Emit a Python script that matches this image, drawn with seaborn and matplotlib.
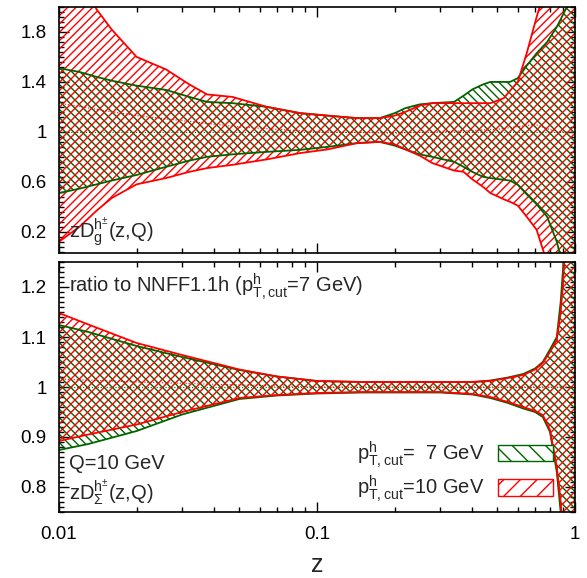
import matplotlib
matplotlib.use("Agg")
import matplotlib.pyplot as plt
import seaborn as sns
from matplotlib.patches import Patch
from matplotlib.ticker import FixedLocator, MultipleLocator, NullFormatter

# ---- top panel: zD_g ratio bands ----
z_top = [0.01, 0.012, 0.014, 0.016, 0.02, 0.026, 0.032, 0.0375, 0.047, 0.064,
         0.086, 0.11, 0.143, 0.175, 0.2, 0.22, 0.25, 0.28, 0.34, 0.37,
         0.40, 0.44, 0.47, 0.53, 0.56, 0.60, 0.65, 0.71, 0.78, 0.85,
         0.93, 1.0]
g7_up = [1.51, 1.48, 1.44, 1.41, 1.37, 1.336, 1.28, 1.24, 1.23, 1.20,
         1.15, 1.13, 1.11, 1.11, 1.15, 1.19, 1.22, 1.23, 1.24, 1.29,
         1.34, 1.38, 1.40, 1.40, 1.40, 1.43, 1.53, 1.63, 1.72, 1.84,
         2.0, 2.2]
g7_lo = [0.51, 0.545, 0.58, 0.61, 0.655, 0.72, 0.77, 0.80, 0.82, 0.84,
         0.856, 0.88, 0.91, 0.92, 0.89, 0.86, 0.82, 0.80, 0.76, 0.72,
         0.68, 0.64, 0.63, 0.616, 0.61, 0.576, 0.50, 0.42, 0.32, 0.12,
         -0.2, -0.4]
r10_up = [2.5, 2.25, 1.98, 1.82, 1.60, 1.50, 1.38, 1.30, 1.28, 1.20,
          1.15, 1.13, 1.11, 1.11, 1.13, 1.16, 1.21, 1.23, 1.23, 1.23,
          1.23, 1.23, 1.23, 1.27, 1.33, 1.40, 1.63, 1.92, 2.2, 2.6,
          3.0, 3.4]
r10_lo = [0.12, 0.24, 0.37, 0.47, 0.58, 0.63, 0.68, 0.71, 0.736, 0.78,
          0.83, 0.86, 0.91, 0.92, 0.90, 0.86, 0.81, 0.75, 0.69, 0.68,
          0.62, 0.56, 0.51, 0.46, 0.44, 0.41, 0.32, 0.216, -0.05, -0.3,
          -0.5, -0.7]
z_top_c = [0.01, 0.015, 0.02, 0.03, 0.05, 0.1, 0.2, 0.3, 0.5, 0.7, 0.85, 1.0]
r10_top_c = [1.23, 1.17, 1.13, 1.09, 1.04, 1.0, 0.99, 1.0, 1.02, 1.06, 1.0, 1.0]

# ---- bottom panel: zD_Sigma ratio bands ----
z_bot = [0.01, 0.013, 0.02, 0.03, 0.05, 0.07, 0.1, 0.15, 0.2, 0.3,
         0.4, 0.47, 0.55, 0.63, 0.7, 0.75, 0.8, 0.85, 0.88, 0.9,
         0.93, 0.96, 1.0]
g7_up_b = [1.124, 1.11, 1.082, 1.06, 1.034, 1.021, 1.012, 1.01, 1.01, 1.01,
           1.01, 1.013, 1.019, 1.026, 1.037, 1.05, 1.075, 1.10, 1.17, 1.24,
           1.40, 1.6, 1.8]
g7_lo_b = [0.874, 0.886, 0.912, 0.945, 0.976, 0.983, 0.987, 0.989, 0.989, 0.989,
           0.985, 0.978, 0.968, 0.957, 0.95, 0.94, 0.91, 0.83, 0.75, 0.69,
           0.6, 0.5, 0.4]
r10_up_b = [1.148, 1.125, 1.088, 1.064, 1.035, 1.021, 1.012, 1.01, 1.01, 1.01,
            1.01, 1.012, 1.018, 1.024, 1.035, 1.048, 1.07, 1.094, 1.15, 1.21,
            1.35, 1.55, 1.75]
r10_lo_b = [0.892, 0.905, 0.925, 0.95, 0.978, 0.984, 0.988, 0.99, 0.99, 0.99,
            0.986, 0.98, 0.97, 0.96, 0.952, 0.944, 0.914, 0.84, 0.77, 0.70,
            0.6, 0.5, 0.4]
z_bot_c = [0.01, 0.02, 0.05, 0.1, 0.3, 0.6, 0.8, 1.0]
r10_bot_c = [1.016, 1.01, 1.004, 1.0, 1.0, 1.0, 1.0, 1.0]

GREEN = "#006400"
RED = "#ff0000"
LABEL7 = r"$\mathregular{p^{h}_{T,cut}}$=  7 GeV"
LABEL10 = r"$\mathregular{p^{h}_{T,cut}}$=10 GeV"

sns.set_theme(style="ticks")
plt.rcParams["font.family"] = ["Liberation Sans", "DejaVu Sans"]
plt.rcParams["mathtext.fontset"] = "custom"
plt.rcParams["mathtext.rm"] = "Liberation Sans"
plt.rcParams["mathtext.it"] = "Liberation Sans:italic"
plt.rcParams["hatch.linewidth"] = 1.0
FS = 14.5
TFS = 13.5

fig = plt.figure(figsize=(5.87, 5.78), dpi=100)
ax1 = fig.add_axes([59 / 587, 1 - 253 / 578, 516 / 587, 246 / 578])
ax2 = fig.add_axes([59 / 587, 1 - 512 / 578, 516 / 587, 250 / 578])


def draw_bands(ax, z, gu, gl, ru, rl, zc, rc):
    ax.fill_between(z, gl, gu, facecolor="none", edgecolor=GREEN,
                    hatch="\\\\\\\\", linewidth=0)
    ax.fill_between(z, rl, ru, facecolor="none", edgecolor=RED,
                    hatch="////", linewidth=0)
    for y, c in [(gu, GREEN), (gl, GREEN), (ru, RED), (rl, RED)]:
        sns.lineplot(x=z, y=y, color=c, lw=1.3, ax=ax, sort=False)
    ax.axhline(1.0, color=GREEN, ls=":", lw=0.8)
    sns.lineplot(x=zc, y=rc, color=RED, ls=":", lw=0.8, ax=ax, sort=False)


draw_bands(ax1, z_top, g7_up, g7_lo, r10_up, r10_lo, z_top_c, r10_top_c)
draw_bands(ax2, z_bot, g7_up_b, g7_lo_b, r10_up_b, r10_lo_b, z_bot_c, r10_bot_c)

for ax in (ax1, ax2):
    ax.set_xscale("log")
    ax.set_xlim(0.01, 1)
    ax.xaxis.set_major_locator(FixedLocator([0.01, 0.1, 1]))
    ax.xaxis.set_minor_locator(FixedLocator(
        [k * 10.0 ** e for e in (-2, -1) for k in range(2, 10)]))
    ax.xaxis.set_minor_formatter(NullFormatter())
    ax.tick_params(which="both", direction="in", top=True, right=True,
                   width=1.0, colors="black", labelsize=TFS)
    ax.tick_params(which="major", length=7)
    ax.tick_params(which="minor", length=3.5)
    ax.tick_params(axis="y", pad=9)
    ax.tick_params(axis="x", pad=10)
    for s in ax.spines.values():
        s.set_linewidth(1.2)
        s.set_color("black")
    ax.set_xlabel("")
    ax.set_ylabel("")
    ax.yaxis.set_major_formatter(plt.FuncFormatter(lambda v, p: f"{v:g}"))

ax1.set_ylim(0.03, 2.0)
ax1.yaxis.set_major_locator(FixedLocator([0.2, 0.6, 1.0, 1.4, 1.8]))
ax1.yaxis.set_minor_locator(MultipleLocator(0.04))
ax1.tick_params(axis="x", labelbottom=False)

ax2.set_ylim(0.75, 1.25)
ax2.yaxis.set_major_locator(MultipleLocator(0.1))
ax2.yaxis.set_minor_locator(MultipleLocator(0.01))
ax2.xaxis.set_major_formatter(plt.FuncFormatter(lambda v, p: f"{v:g}"))
ax2.set_xlabel("z", fontsize=18, labelpad=7)

ax1.text(0.02, 0.015, r"zD$^{\mathregular{h^{\pm}}}_{\mathregular{g}}$(z,Q)",
         transform=ax1.transAxes, fontsize=FS, ha="left", va="bottom")
ax2.text(0.02, 0.90, r"ratio to NNFF1.1h ($\mathregular{p^{h}_{T,cut}}$=7 GeV)",
         transform=ax2.transAxes, fontsize=FS, ha="left", va="center")
ax2.text(0.02, 0.195, "Q=10 GeV", transform=ax2.transAxes, fontsize=FS,
         ha="left", va="center")
ax2.text(0.02, 0.015, r"zD$^{\mathregular{h^{\pm}}}_{\mathregular{\Sigma}}$(z,Q)",
         transform=ax2.transAxes, fontsize=FS, ha="left", va="bottom")

handles = [Patch(facecolor="white", edgecolor=GREEN, hatch="\\\\", lw=1.0),
           Patch(facecolor="white", edgecolor=RED, hatch="//", lw=1.0)]
ax2.legend(handles, [LABEL7, LABEL10], loc="lower right",
           bbox_to_anchor=(0.957, 0.03), frameon=False, markerfirst=False,
           fontsize=FS, handlelength=2.7, handleheight=0.85, borderpad=0,
           borderaxespad=0, labelspacing=0.2, handletextpad=0.7)

fig.savefig("out.png", dpi=100)
